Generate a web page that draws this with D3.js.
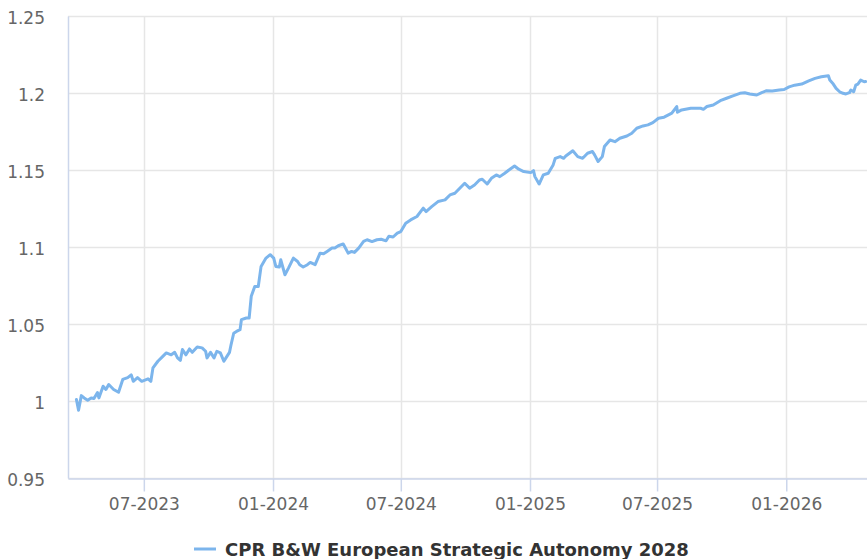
<!DOCTYPE html>
<html>
<head>
<meta charset="utf-8">
<script src="https://cdn.jsdelivr.net/npm/d3@7"></script>
<style>
  body { margin: 0; background: #fff; }
  svg { display: block; font-family: "DejaVu Sans", sans-serif; }
</style>
</head>
<body>
<div id="chart"></div>
<script>
var seriesName = "CPR B&W European Strategic Autonomy 2028";

var dates = [
  "2023-03-27","2023-03-30","2023-04-03","2023-04-07","2023-04-12","2023-04-17","2023-04-21","2023-04-26","2023-04-28",
  "2023-05-04","2023-05-08","2023-05-12","2023-05-19","2023-05-26","2023-06-01","2023-06-08","2023-06-13","2023-06-16",
  "2023-06-22","2023-06-28","2023-07-07","2023-07-11","2023-07-14","2023-07-21","2023-07-28","2023-08-02","2023-08-09",
  "2023-08-14","2023-08-18","2023-08-22","2023-08-25","2023-08-30","2023-09-04","2023-09-08","2023-09-15","2023-09-22",
  "2023-09-27","2023-09-29","2023-10-04","2023-10-09","2023-10-13","2023-10-18","2023-10-23","2023-10-26","2023-10-31",
  "2023-11-02","2023-11-06","2023-11-10","2023-11-15","2023-11-17","2023-11-24","2023-11-28","2023-12-01","2023-12-06",
  "2023-12-11","2023-12-15","2023-12-22","2023-12-28","2024-01-02","2024-01-05","2024-01-10","2024-01-12","2024-01-18",
  "2024-01-23","2024-01-30","2024-02-05","2024-02-08","2024-02-13","2024-02-19","2024-02-23","2024-03-01","2024-03-08",
  "2024-03-13","2024-03-18","2024-03-25","2024-03-29","2024-04-03","2024-04-10","2024-04-12","2024-04-17","2024-04-22",
  "2024-04-26","2024-05-02","2024-05-09","2024-05-14","2024-05-21","2024-05-28","2024-06-03","2024-06-10","2024-06-14",
  "2024-06-20","2024-06-26","2024-07-01","2024-07-08","2024-07-15","2024-07-24","2024-08-02","2024-08-06","2024-08-14",
  "2024-08-23","2024-09-02","2024-09-09","2024-09-16","2024-09-23","2024-09-30","2024-10-07","2024-10-14","2024-10-21",
  "2024-10-25","2024-11-01","2024-11-07","2024-11-14","2024-11-19","2024-11-26","2024-12-02","2024-12-10","2024-12-16",
  "2024-12-23","2025-01-02","2025-01-06","2025-01-08","2025-01-14","2025-01-20","2025-01-27","2025-02-03","2025-02-06",
  "2025-02-13","2025-02-18","2025-02-21","2025-03-03","2025-03-10","2025-03-17","2025-03-24","2025-03-31","2025-04-03",
  "2025-04-08","2025-04-14","2025-04-17","2025-04-25","2025-05-02","2025-05-09","2025-05-19","2025-05-26","2025-06-02",
  "2025-06-11","2025-06-18","2025-06-25","2025-07-03","2025-07-11","2025-07-22","2025-07-29","2025-07-30","2025-08-05",
  "2025-08-18","2025-09-01","2025-09-05","2025-09-10","2025-09-19","2025-09-29","2025-10-08","2025-10-17","2025-10-27",
  "2025-11-03","2025-11-10","2025-11-20","2025-11-27","2025-12-04","2025-12-12","2025-12-22","2025-12-29","2026-01-05",
  "2026-01-13","2026-01-23","2026-02-02","2026-02-11","2026-02-20","2026-03-02","2026-03-04","2026-03-09","2026-03-13",
  "2026-03-18","2026-03-23","2026-03-27","2026-04-01","2026-04-03","2026-04-07","2026-04-10","2026-04-13","2026-04-17",
  "2026-04-22","2026-04-24"
];

var values = [
  1.001,0.994,1.0035,1.002,1.0005,1.002,1.0016,1.0055,1.002,
  1.0096,1.0075,1.0107,1.0075,1.0057,1.014,1.0152,1.017,1.0128,
  1.0152,1.0128,1.0144,1.0128,1.0215,1.0258,1.029,1.0312,1.030,
  1.0316,1.028,1.0264,1.0334,1.030,1.0338,1.0316,1.0351,1.0345,
  1.0323,1.028,1.0316,1.028,1.0323,1.0312,1.0258,1.028,1.0316,
  1.036,1.044,1.0452,1.0463,1.0528,1.0539,1.0539,1.068,1.0744,
  1.0744,1.0874,1.0928,1.095,1.0928,1.0874,1.087,1.0917,1.082,
  1.0863,1.0928,1.0906,1.0885,1.087,1.0885,1.09,1.0885,1.096,
  1.0956,1.0971,1.0993,1.0993,1.1008,1.102,1.1003,1.096,1.0971,
  1.0965,1.0993,1.1036,1.1047,1.1035,1.1047,1.105,1.104,1.107,
  1.1065,1.109,1.110,1.1155,1.1176,1.1198,1.1252,1.123,1.1262,
  1.1295,1.1306,1.1338,1.1349,1.1382,1.1414,1.1382,1.1403,1.1435,
  1.144,1.1409,1.1446,1.1468,1.1457,1.1479,1.15,1.1526,1.1505,
  1.149,1.1483,1.1496,1.1457,1.1409,1.1468,1.1479,1.1533,1.1576,
  1.1587,1.1576,1.1591,1.1625,1.1587,1.1576,1.1609,1.162,1.1598,
  1.1555,1.1587,1.1652,1.1695,1.1684,1.1706,1.1721,1.1739,1.1771,
  1.1786,1.1793,1.1808,1.1836,1.1843,1.1869,1.1912,1.1875,1.189,
  1.1901,1.1901,1.1894,1.1912,1.1922,1.195,1.1966,1.1981,1.1998,
  1.2002,1.1994,1.1987,1.2002,1.2015,1.2013,1.2019,1.2023,1.204,
  1.2051,1.2058,1.2079,1.2095,1.2105,1.2112,1.2084,1.2058,1.203,
  1.2008,1.1998,1.1994,1.2002,1.2019,1.2008,1.2051,1.2058,1.2084,
  1.2073,1.2075
];

var yTicks = [0.95, 1, 1.05, 1.1, 1.15, 1.2, 1.25];
var xTicks = ["2023-07-01","2024-01-01","2024-07-01","2025-01-01","2025-07-01","2026-01-01"];
var xDomain = ["2023-03-15","2026-04-26"];

var width = 867,
    height = 559,
    margin = {top: 16, right: 0, bottom: 81, left: 68};

var parse = d3.timeParse("%Y-%m-%d");

var data = dates.map(function(d, i) { return {date: parse(d), value: values[i]}; });

var x = d3.scaleTime()
    .domain(xDomain.map(parse))
    .range([margin.left, width - margin.right]);

var y = d3.scaleLinear()
    .domain([0.95, 1.25])
    .range([height - margin.bottom, margin.top]);

var svg = d3.select("#chart").append("svg")
    .attr("width", width)
    .attr("height", height);

// horizontal grid
svg.append("g")
  .selectAll("line")
  .data(yTicks)
  .enter().append("line")
    .attr("x1", margin.left)
    .attr("x2", width)
    .attr("y1", function(d) { return Math.round(y(d)) + 0.5; })
    .attr("y2", function(d) { return Math.round(y(d)) + 0.5; })
    .attr("stroke", "#e6e6e6")
    .attr("stroke-width", 1.5);

// vertical grid
svg.append("g")
  .selectAll("line")
  .data(xTicks.map(parse))
  .enter().append("line")
    .attr("x1", function(d) { return Math.round(x(d)) + 0.5; })
    .attr("x2", function(d) { return Math.round(x(d)) + 0.5; })
    .attr("y1", margin.top)
    .attr("y2", y(0.95))
    .attr("stroke", "#e6e6e6")
    .attr("stroke-width", 1.5);

// y axis
var yAxis = svg.append("g")
    .attr("transform", "translate(" + margin.left + ",0)")
    .call(d3.axisLeft(y)
      .tickValues(yTicks)
      .tickSize(0)
      .tickPadding(23)
      .tickFormat(function(d) { return String(+d.toFixed(2)); }));
yAxis.select(".domain").attr("stroke", "#ccd6eb").attr("stroke-width", 1.5);
yAxis.selectAll("text")
    .attr("fill", "#666666")
    .attr("dy", "0.42em")
    .style("font-size", "17px")
    .style("font-family", "DejaVu Sans, sans-serif");

// x axis
var xAxis = svg.append("g")
    .attr("transform", "translate(0," + (Math.round(y(0.95)) + 0.5) + ")")
    .call(d3.axisBottom(x)
      .tickValues(xTicks.map(parse))
      .tickSize(13)
      .tickPadding(6)
      .tickSizeOuter(0)
      .tickFormat(d3.timeFormat("%m-%Y")));
xAxis.select(".domain").attr("stroke", "#ccd6eb").attr("stroke-width", 1.5);
xAxis.selectAll(".tick line").attr("stroke", "#ccd6eb").attr("stroke-width", 1.5);
xAxis.selectAll("text")
    .attr("fill", "#666666")
    .style("font-size", "17px")
    .style("font-family", "DejaVu Sans, sans-serif");

var line = d3.line()
    .x(function(d) { return x(d.date); })
    .y(function(d) { return y(d.value); });

svg.append("path")
    .datum(data)
    .attr("fill", "none")
    .attr("stroke", "#7cb5ec")
    .attr("stroke-width", 3)
    .attr("stroke-linejoin", "round")
    .attr("stroke-linecap", "round")
    .attr("d", line);

// legend
var legend = svg.append("g")
    .attr("transform", "translate(194,549)");
legend.append("line")
    .attr("x1", 0).attr("x2", 22)
    .attr("y1", 0).attr("y2", 0)
    .attr("stroke", "#7cb5ec")
    .attr("stroke-width", 3);
legend.append("text")
    .attr("x", 31)
    .attr("y", 6.5)
    .attr("fill", "#333333")
    .style("font-size", "18px")
    .style("font-weight", "bold")
    .text(seriesName);
</script>
</body>
</html>
